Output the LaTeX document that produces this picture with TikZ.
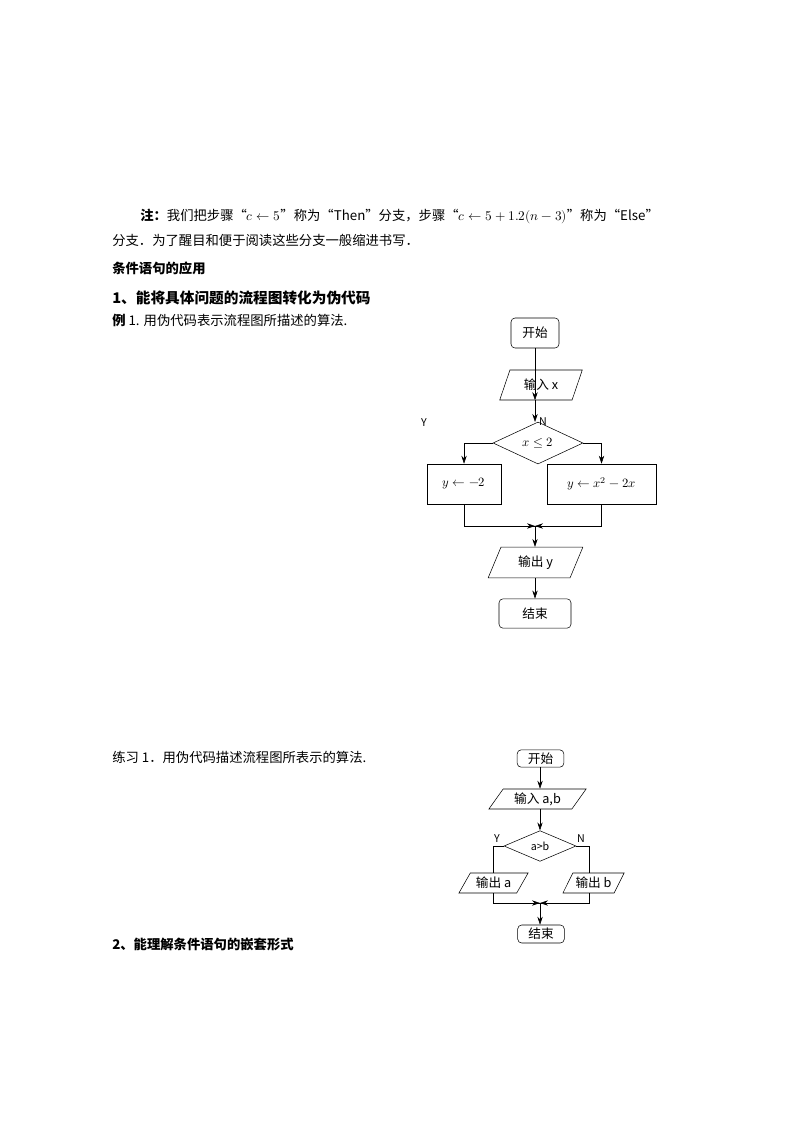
\documentclass[tikz,border=0pt]{standalone}
\usepackage{fontspec}
\setmainfont{Noto Sans CJK SC}
\newfontfamily\cjk{Noto Sans CJK SC}
\usepackage{unicode-math}
\setmathfont{Latin Modern Math}
\usetikzlibrary{shapes.geometric,arrows.meta}
\begin{document}
\begin{tikzpicture}[x=0.75pt,y=-0.75pt,
  box/.style={draw,thin,inner sep=1pt,font=\fontsize{9.5}{11}\selectfont},
  rbox/.style={box,rounded corners=3pt},
  para/.style={box,trapezium,trapezium left angle=67,trapezium right angle=113,trapezium stretches=true},
  dia/.style={box,diamond,inner sep=0pt},
  arr/.style={-{Stealth[length=6pt,width=4pt]},thin},
  ln/.style={thin},
  txt/.style={anchor=west,inner sep=0pt,font=\fontsize{10}{12}\selectfont},
  btxt/.style={txt,font=\fontsize{10}{12}\selectfont\bfseries}]
\useasboundingbox (0,0) rectangle (794,1123);
% text
\node[txt] (t1) at (140,216) {\textbf{注：}我们把步骤“$c\leftarrow 5$”称为“Then”分支，步骤“$c\leftarrow 5+1.2(n-3)$”称为“Else”};
\node[txt] (t2) at (112,240) {分支．为了醒目和便于阅读这些分支一般缩进书写．};
\node[btxt] (t3) at (112,268) {条件语句的应用};
\node[btxt,font=\fontsize{11}{13}\selectfont\bfseries] (t4) at (112,298) {1、能将具体问题的流程图转化为伪代码};
\node[txt] (t5) at (112,320) {\textbf{例} 1. 用伪代码表示流程图所描述的算法.};
\node[txt] (t6) at (112,757) {练习 1．用伪代码描述流程图所表示的算法.};
\node[btxt] (t7) at (112,944) {2、能理解条件语句的嵌套形式};
% top chart
\node[rbox,minimum width=36pt,minimum height=22.5pt] (s1) at (535,333) {开始};
\node[para,minimum width=62pt,minimum height=22.5pt] (i1) at (541,385) {输入 x};
\node[dia,minimum width=67.5pt,minimum height=31.5pt] (d1) at (538,443) {$x\leq 2$};
\node[box,minimum width=55.5pt,minimum height=30pt] (L1) at (464,484) {$y\leftarrow -2$};
\node[box,minimum width=82pt,minimum height=30pt] (R1) at (601.5,484) {$y\leftarrow x^2-2x$};
\node[para,minimum width=71pt,minimum height=23pt] (o1) at (535.5,562.5) {输出 y};
\node[rbox,minimum width=54pt,minimum height=22pt] (e1) at (535,613.5) {结束};
\coordinate (m1) at (535,526);
\coordinate (j1) at (535,422);
\draw[arr] (s1) -- (i1.south -| s1);
\draw[arr] (i1.south -| s1) -- (j1);
\draw[arr] (d1.west) -| (L1.north);
\draw[arr] (d1.east) -| (R1.north);
\draw[ln] (L1.south) |- (m1);
\draw[ln] (R1.south) |- (m1);
\draw[arr] (L1.south |- m1) -- (m1);
\draw[arr] (R1.south |- m1) -- (m1);
\draw[arr] (m1) -- (o1.north -| m1);
\draw[arr] (o1.south -| m1) -- (e1);
\node[font=\fontsize{8}{9}\rmfamily,inner sep=0pt] (Y1) at (424,423) {Y};
\node[font=\fontsize{8}{9}\rmfamily,inner sep=0pt] (N1) at (543,422) {N};
% bottom chart
\node[rbox,minimum width=35pt,minimum height=13pt] (s2) at (540.5,758.5) {开始};
\node[para,trapezium left angle=57,trapezium right angle=123,minimum width=73pt,minimum height=15pt] (i2) at (537.5,799) {输入 a,b};
\node[dia,minimum width=54pt,minimum height=23pt,font=\fontsize{8}{9}\selectfont] (d2) at (540,846) {a>b};
\node[para,trapezium left angle=57,trapezium right angle=123,minimum width=52pt,minimum height=15pt] (La) at (493.5,883) {输出 a};
\node[para,trapezium left angle=57,trapezium right angle=123,minimum width=46pt,minimum height=15pt] (Rb) at (593.5,883) {输出 b};
\node[rbox,minimum width=35pt,minimum height=13.5pt] (e2) at (541,934) {结束};
\coordinate (m2) at (540,903);
\draw[arr] (s2.south -| m2) -- (i2.north -| m2);
\draw[arr] (i2.south -| m2) -- (d2.north);
\draw[ln] (d2.west) -| (493,873);
\draw[ln] (d2.east) -| (589,873);
\draw[ln] (493,893) |- (m2);
\draw[ln] (589,893) |- (m2);
\draw[arr] (493,903) -- (m2);
\draw[arr] (589,903) -- (m2);
\draw[arr] (m2) -- (e2.north -| m2);
\node[font=\fontsize{8}{9}\selectfont,inner sep=0pt] (Y2) at (497,839) {Y};
\node[font=\fontsize{8}{9}\selectfont,inner sep=0pt] (N2) at (581,839) {N};
\end{tikzpicture}
\end{document}
